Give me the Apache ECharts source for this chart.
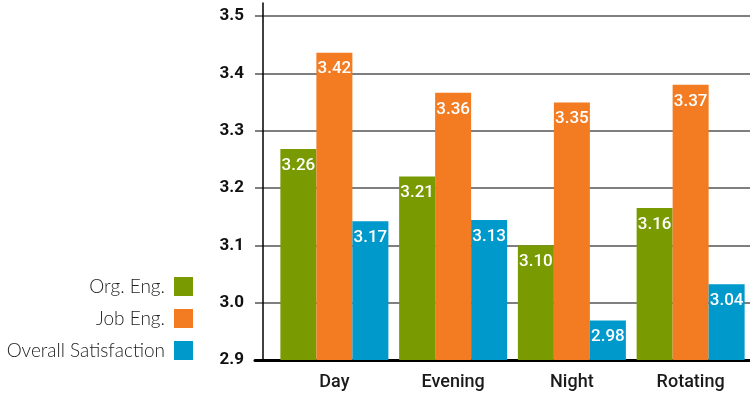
<!DOCTYPE html>
<html>
<head>
<meta charset="utf-8">
<script src="https://cdn.jsdelivr.net/npm/echarts@6/dist/echarts.min.js"></script>
<style>
  html, body { margin: 0; padding: 0; background: #fff; }
  #chart { width: 750px; height: 396px; }
</style>
</head>
<body>
<div id="chart"></div>
<script>
const categories = ['Day', 'Evening', 'Night', 'Rotating'];
const seriesNames = ['Org. Eng.', 'Job Eng.', 'Overall Satisfaction'];

// bar heights as drawn in the picture
const orgEng = [3.268, 3.220, 3.100, 3.165];
const jobEng = [3.436, 3.366, 3.349, 3.380];
const overall = [3.142, 3.144, 2.969, 3.032];

// numbers printed on the bars
const orgEngLabels = ['3.26', '3.21', '3.10', '3.16'];
const jobEngLabels = ['3.42', '3.36', '3.35', '3.37'];
const overallLabels = ['3.17', '3.13', '2.98', '3.04'];

const yTicks = ['2.9', '3.0', '3.1', '3.2', '3.3', '3.4', '3.5'];

const colors = ['#7a9a01', '#f37b21', '#0099cc'];
const yMin = Number(yTicks[0]);
const yMax = Number(yTicks[yTicks.length - 1]);

const chart = echarts.init(document.getElementById('chart'));

function barSeries(name, values, labels, color) {
  return {
    name: name,
    type: 'bar',
    xAxisIndex: 0,
    yAxisIndex: 0,
    barWidth: 36,
    barGap: '0%',
    itemStyle: { color: color },
    label: {
      show: true,
      position: 'insideTop',
      distance: 8,
      color: '#fff',
      fontFamily: 'Roboto',
      fontWeight: 500,
      fontSize: 17,
      formatter: (p) => labels[p.dataIndex]
    },
    data: values
  };
}

chart.setOption({
  animation: false,
  legend: {
    orient: 'vertical',
    align: 'right',
    right: 557,
    top: 277,
    padding: 0,
    itemWidth: 19,
    itemHeight: 19,
    itemGap: 13,
    icon: 'rect',
    textStyle: {
      fontFamily: 'Lato',
      fontWeight: 300,
      fontSize: 19,
      color: '#222',
      padding: [0, 4, 0, 0]
    },
    data: seriesNames
  },
  grid: [
    { left: 275, right: -3, top: 16, bottom: 36 },   // bars
    { left: 255, right: 0, top: 16, bottom: 36 },    // gridlines, y labels, baseline
    { left: 263, width: 1, top: 3, bottom: 36 }      // y axis line
  ],
  xAxis: [
    {
      type: 'category',
      gridIndex: 0,
      data: categories,
      axisLine: { show: false },
      axisTick: { show: false },
      axisLabel: {
        margin: 13,
        color: '#1a1a1a',
        fontFamily: 'Roboto',
        fontWeight: 500,
        fontSize: 18
      }
    },
    {
      type: 'category',
      gridIndex: 1,
      data: categories,
      axisLine: { lineStyle: { color: '#000', width: 3 } },
      axisTick: { show: false },
      axisLabel: { show: false }
    },
    { type: 'category', gridIndex: 2, show: false }
  ],
  yAxis: [
    {
      type: 'value',
      gridIndex: 0,
      min: yMin,
      max: yMax,
      interval: 0.1,
      axisLine: { show: false },
      axisTick: { show: false },
      axisLabel: { show: false },
      splitLine: { show: false }
    },
    {
      type: 'value',
      gridIndex: 1,
      min: yMin,
      max: yMax,
      interval: 0.1,
      axisLine: { show: false },
      axisTick: { show: false },
      axisLabel: {
        margin: 11,
        color: '#111',
        fontFamily: 'Roboto',
        fontWeight: 'bold',
        fontSize: 17,
        formatter: (v) => v.toFixed(1)
      },
      splitLine: { lineStyle: { color: '#555', width: 1.5 } }
    },
    {
      type: 'value',
      gridIndex: 2,
      min: 0,
      max: 1,
      axisLine: { show: true, lineStyle: { color: '#000', width: 1.5 } },
      axisTick: { show: false },
      axisLabel: { show: false },
      splitLine: { show: false }
    }
  ],
  series: [
    barSeries(seriesNames[0], orgEng, orgEngLabels, colors[0]),
    barSeries(seriesNames[1], jobEng, jobEngLabels, colors[1]),
    barSeries(seriesNames[2], overall, overallLabels, colors[2])
  ]
});
</script>
</body>
</html>
